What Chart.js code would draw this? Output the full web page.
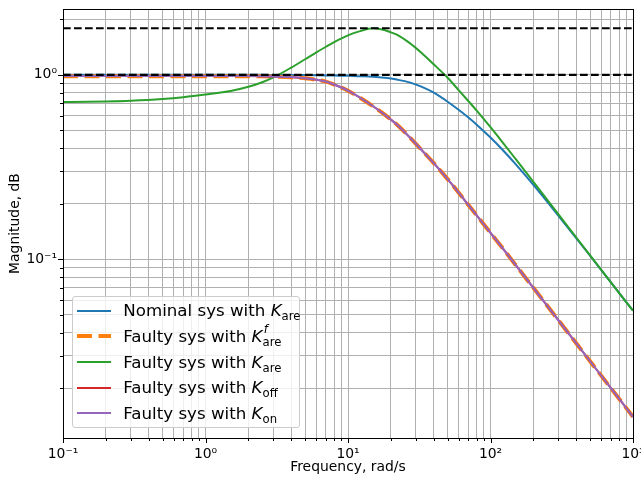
<!DOCTYPE html>
<html>
<head>
<meta charset="utf-8">
<script src="https://cdn.jsdelivr.net/npm/chart.js@4.4.1/dist/chart.umd.min.js"></script>
<style>
  body { margin: 0; background: #fff; }
  #wrap { position: relative; width: 641px; height: 477px; font-family: 'DejaVu Sans', sans-serif; }
  #legend {
    position: absolute; left: 71.5px; top: 295.5px; width: 228px; height: 132px;
    box-sizing: border-box; border: 1px solid #cccccc; border-radius: 3px;
    background: rgba(255,255,255,0.8); padding-top: 1.5px;
  }
  .row { display: flex; align-items: center; height: 25.67px; font-size: 16.67px; color: #000; white-space: nowrap; }
  .row svg { margin-left: 4.5px; margin-right: 12.3px; flex: none; }
  .k { font-style: italic; }
  .ss { display: inline-block; position: relative; font-size: 70%; }
  .ss .sub { position: relative; top: 0.35em; }
  .ss .sup { position: absolute; left: 0.1em; top: -0.75em; font-style: italic; }
</style>
</head>
<body>
<div id="wrap">
  <canvas id="bode" width="641" height="477"></canvas>
  <div id="legend"></div>
</div>
<script>
/* ─── Data ────────────────────────────────────────────────── */
const freq = [0.1, 0.15, 0.2, 0.3, 0.5, 0.7, 1, 1.5, 2, 2.5, 3, 4, 5, 6, 7, 8, 10, 12, 15, 18,
              20, 22, 27, 33, 40, 50, 60, 70, 80, 100, 120, 150, 200, 300, 500, 700, 1000];

const nominalKare = [1.0, 1.0, 1.0, 1.0, 1.0, 1.0, 1.0, 1.0, 1.0, 1.0, 0.999, 0.998, 0.997, 0.995, 0.993, 0.991, 0.988, 0.983, 0.976, 0.965,
                     0.955, 0.943, 0.91, 0.86, 0.80, 0.715, 0.645, 0.587, 0.537, 0.457, 0.396, 0.328, 0.253, 0.172, 0.1045, 0.0749, 0.0526];

const faultyKareF = [0.984, 0.984, 0.984, 0.984, 0.984, 0.984, 0.984, 0.984, 0.984, 0.982, 0.979, 0.97, 0.957, 0.94, 0.918, 0.885, 0.82, 0.755, 0.675, 0.61,
                     0.572, 0.538, 0.46, 0.39, 0.332, 0.272, 0.229, 0.197, 0.173, 0.139, 0.1165, 0.0932, 0.07, 0.0467, 0.028, 0.02, 0.014];

const faultyKare = [0.712, 0.714, 0.717, 0.724, 0.74, 0.757, 0.782, 0.817, 0.861, 0.912, 0.969, 1.095, 1.215, 1.325, 1.42, 1.505, 1.637, 1.72, 1.787, 1.75,
                    1.70, 1.65, 1.49, 1.31, 1.14, 0.964, 0.824, 0.72, 0.64, 0.52, 0.436, 0.35, 0.263, 0.175, 0.105, 0.075, 0.0526];

const faultyKoff = [0.986, 0.986, 0.986, 0.986, 0.986, 0.986, 0.986, 0.986, 0.985, 0.983, 0.98, 0.971, 0.958, 0.941, 0.919, 0.886, 0.821, 0.756, 0.676, 0.61,
                    0.572, 0.538, 0.46, 0.39, 0.332, 0.272, 0.229, 0.197, 0.173, 0.139, 0.1165, 0.0932, 0.07, 0.0467, 0.028, 0.02, 0.014];

const faultyKon = [0.987, 0.987, 0.987, 0.987, 0.987, 0.987, 0.987, 0.987, 0.986, 0.984, 0.981, 0.972, 0.959, 0.942, 0.92, 0.887, 0.822, 0.756, 0.676, 0.61,
                   0.572, 0.538, 0.46, 0.39, 0.332, 0.272, 0.229, 0.197, 0.173, 0.139, 0.1165, 0.0932, 0.07, 0.0467, 0.028, 0.02, 0.014];

const refLevels = [1.0, 1.79];
const xRange = [0.1, 1000];
const yRange = [0.01074, 2.275];

const seriesText = ['Nominal sys with', 'Faulty sys with', 'Faulty sys with', 'Faulty sys with', 'Faulty sys with'];
const gainSub    = ['are', 'are', 'are', 'off', 'on'];
const gainSup    = ['', 'f', '', '', ''];

/* ─── Styles ──────────────────────────────────────────────── */
const seriesValues = [nominalKare, faultyKareF, faultyKare, faultyKoff, faultyKon];
const seriesColor  = ['#1f77b4', '#ff7f0e', '#2ca02c', '#d62728', '#9467bd'];
const seriesWidth  = [2, 4, 2, 2, 2];
const seriesDash   = [[], [15, 6.5], [], [], []];
const seriesOrder  = [7, 6, 5, 4, 3];
const FONT = "'DejaVu Sans', sans-serif";

/* ─── Log tick helpers ────────────────────────────────────── */
const SUP = { '-': '\u207B', '0': '\u2070', '1': '\u00B9', '2': '\u00B2', '3': '\u00B3' };
function decadeLabel(v) {
  const e = Math.log10(v);
  if (Math.abs(e - Math.round(e)) > 1e-6) return '';
  return '10' + String(Math.round(e)).split('').map(c => SUP[c]).join('');
}
function logTicks(lo, hi) {
  const out = [];
  for (let e = Math.floor(Math.log10(lo)); e <= Math.ceil(Math.log10(hi)); e++) {
    for (let m = 1; m <= 9; m++) {
      const v = Number((m * Math.pow(10, e)).toPrecision(6));
      if (v >= lo * 0.9999 && v <= hi * 1.0001) out.push({ value: v, major: m === 1 });
    }
  }
  return out;
}

/* ─── Frame: spines + outward tick marks ──────────────────── */
const framePlugin = {
  id: 'frame',
  afterDraw(chart) {
    const { ctx, chartArea: a, scales } = chart;
    ctx.save();
    ctx.strokeStyle = '#000';
    ctx.lineWidth = 1;
    scales.x.ticks.forEach(t => {
      const px = Math.round(scales.x.getPixelForValue(t.value)) + 0.5;
      ctx.beginPath();
      ctx.moveTo(px, a.bottom);
      ctx.lineTo(px, a.bottom + (t.major ? 5 : 3));
      ctx.stroke();
    });
    scales.y.ticks.forEach(t => {
      const py = Math.round(scales.y.getPixelForValue(t.value)) + 0.5;
      ctx.beginPath();
      ctx.moveTo(a.left, py);
      ctx.lineTo(a.left - (t.major ? 5 : 3), py);
      ctx.stroke();
    });
    ctx.strokeRect(Math.round(a.left) + 0.5, Math.round(a.top) + 0.5,
                   Math.round(a.right - a.left), Math.round(a.bottom - a.top));
    ctx.restore();
  }
};

/* ─── Datasets ────────────────────────────────────────────── */
const toPoints = ys => freq.map((f, i) => ({ x: f, y: ys[i] }));

const datasets = seriesValues.map((ys, i) => ({
  label: seriesText[i] + ' K' + gainSub[i],
  data: toPoints(ys),
  borderColor: seriesColor[i],
  borderWidth: seriesWidth[i],
  borderDash: seriesDash[i],
  borderCapStyle: 'butt',
  pointRadius: 0,
  cubicInterpolationMode: 'monotone',
  order: seriesOrder[i]
}));

refLevels.forEach((lvl, i) => datasets.push({
  label: 'ref' + i,
  data: [{ x: xRange[0], y: lvl }, { x: xRange[1], y: lvl }],
  borderColor: '#000',
  borderWidth: 2.1,
  borderDash: [7.7, 3.3],
  pointRadius: 0,
  order: i
}));

new Chart(document.getElementById('bode'), {
  type: 'line',
  data: { datasets },
  plugins: [framePlugin],
  options: {
    responsive: false,
    animation: false,
    devicePixelRatio: 1,
    layout: { padding: { top: 9, right: 8, bottom: 0, left: 0 } },
    plugins: { legend: { display: false }, tooltip: { enabled: false } },
    scales: {
      x: {
        type: 'logarithmic',
        min: xRange[0], max: xRange[1],
        afterBuildTicks: s => { s.ticks = logTicks(xRange[0], xRange[1]); },
        afterFit: s => { s.height = 39; s.paddingLeft = 0; s.paddingRight = 0; },
        grid: { color: '#b0b0b0', lineWidth: 1, drawTicks: false },
        border: { display: false },
        ticks: {
          autoSkip: false, maxRotation: 0, padding: 8, color: '#000',
          font: { family: FONT, size: 13.9 },
          callback: v => decadeLabel(v)
        },
        title: {
          display: true, text: 'Frequency, rad/s', color: '#000',
          font: { family: FONT, size: 13.9 }, padding: { top: 0, bottom: 1 }
        }
      },
      y: {
        type: 'logarithmic',
        min: yRange[0], max: yRange[1],
        afterBuildTicks: s => { s.ticks = logTicks(yRange[0], yRange[1]); },
        afterFit: s => { s.width = 63; s.paddingTop = 0; s.paddingBottom = 0; },
        grid: { color: '#b0b0b0', lineWidth: 1, drawTicks: false },
        border: { display: false },
        ticks: {
          autoSkip: false, padding: 6, color: '#000',
          font: { family: FONT, size: 13.9 },
          callback: v => decadeLabel(v)
        },
        title: {
          display: true, text: 'Magnitude, dB', color: '#000',
          font: { family: FONT, size: 13.9 }, padding: { top: 7, bottom: 0 }
        }
      }
    }
  }
});

/* ─── Legend (HTML so K gets its sub/superscripts) ────────── */
function handleSvg(i) {
  const dash = seriesDash[i].length ? `stroke-dasharray="${seriesDash[i].join(' ')}"` : '';
  return `<svg width="34" height="10"><line x1="0" y1="5" x2="34" y2="5" stroke="${seriesColor[i]}" stroke-width="${seriesWidth[i]}" ${dash}/></svg>`;
}
document.getElementById('legend').innerHTML = seriesText.map((txt, i) => `
  <div class="row">${handleSvg(i)}<span>${txt} <span class="k">K</span><span class="ss">${gainSup[i] ? `<span class="sup">${gainSup[i]}</span>` : ''}<span class="sub">${gainSub[i]}</span></span></span></div>`
).join('');
</script>
</body>
</html>
